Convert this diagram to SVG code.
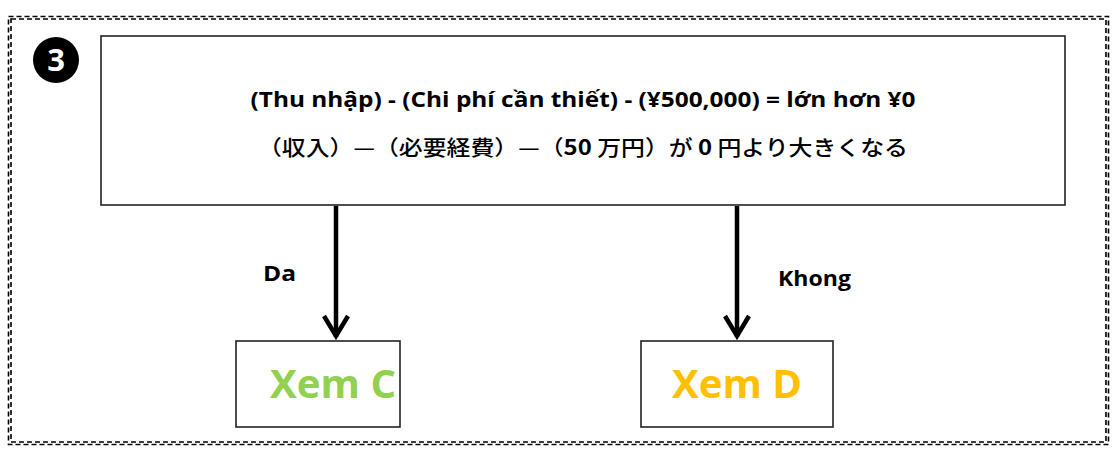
<svg xmlns="http://www.w3.org/2000/svg" width="1112" height="461" viewBox="0 0 1112 461">
<defs>
<style>
.frame{fill:none;stroke:#000;stroke-width:1.6;stroke-dasharray:5 3}
.box{fill:#fff;stroke:#222;stroke-width:1.6}
.t{font-family:"Open Sans","Liberation Sans","Noto Sans CJK JP",sans-serif;font-weight:bold;fill:#000}
.j{font-family:"Noto Sans CJK JP","Open Sans",sans-serif;font-weight:500;fill:#000}
.conn{fill:none;stroke:#000;stroke-width:4.5}
</style>
<marker id="chev" markerUnits="userSpaceOnUse" viewBox="-26 -16 30 32" refX="0" refY="0" markerWidth="30" markerHeight="32" orient="auto" overflow="visible">
<polyline points="-21,-12 -1,0 -21,12" fill="none" stroke="#000" stroke-width="4.5" stroke-linejoin="miter"/>
</marker>
</defs>
<rect fill="#fff" x="0" y="0" width="1112" height="461"/>
<g id="frame">
<rect class="frame" x="8.5" y="16.5" width="1100" height="428"/>
<rect class="frame" x="11" y="19" width="1095" height="423"/>
</g>
<g id="badge">
<circle cx="56" cy="60" r="23" fill="#000"/>
<text class="t" x="56" y="71" font-size="31" text-anchor="middle" style="fill:#fff">3</text>
</g>
<g id="condition">
<rect class="box" x="101" y="36" width="964" height="169"/>
<text class="t" x="583" y="107" font-size="21" text-anchor="middle" textLength="665" lengthAdjust="spacingAndGlyphs">(Thu nhập) - (Chi phí cần thiết) - (¥500,000) = lớn hơn ¥0</text>
<text class="j" x="583" y="155" font-size="21" text-anchor="middle" textLength="650" lengthAdjust="spacingAndGlyphs">（収入）—（必要経費）—（<tspan font-weight="bold">50</tspan> 万円）が <tspan font-weight="bold">0</tspan> 円より大きくなる</text>
</g>
<g id="connectors">
<path class="conn" d="M336 206 V337" marker-end="url(#chev)"/>
<path class="conn" d="M737 206 V337" marker-end="url(#chev)"/>
<text class="t" x="279.5" y="281" font-size="21" text-anchor="middle" textLength="33" lengthAdjust="spacingAndGlyphs">Da</text>
<text class="t" x="814.5" y="286" font-size="21" text-anchor="middle" textLength="73" lengthAdjust="spacingAndGlyphs">Khong</text>
</g>
<g id="xemC">
<rect class="box" x="236" y="341" width="164" height="86"/>
<text class="t" x="333" y="398" font-size="40" text-anchor="middle" textLength="126" lengthAdjust="spacingAndGlyphs" style="fill:#92D050">Xem C</text>
</g>
<g id="xemD">
<rect class="box" x="641" y="341" width="192" height="86"/>
<text class="t" x="737" y="398" font-size="40" text-anchor="middle" textLength="130" lengthAdjust="spacingAndGlyphs" style="fill:#FFC000">Xem D</text>
</g>
</svg>
